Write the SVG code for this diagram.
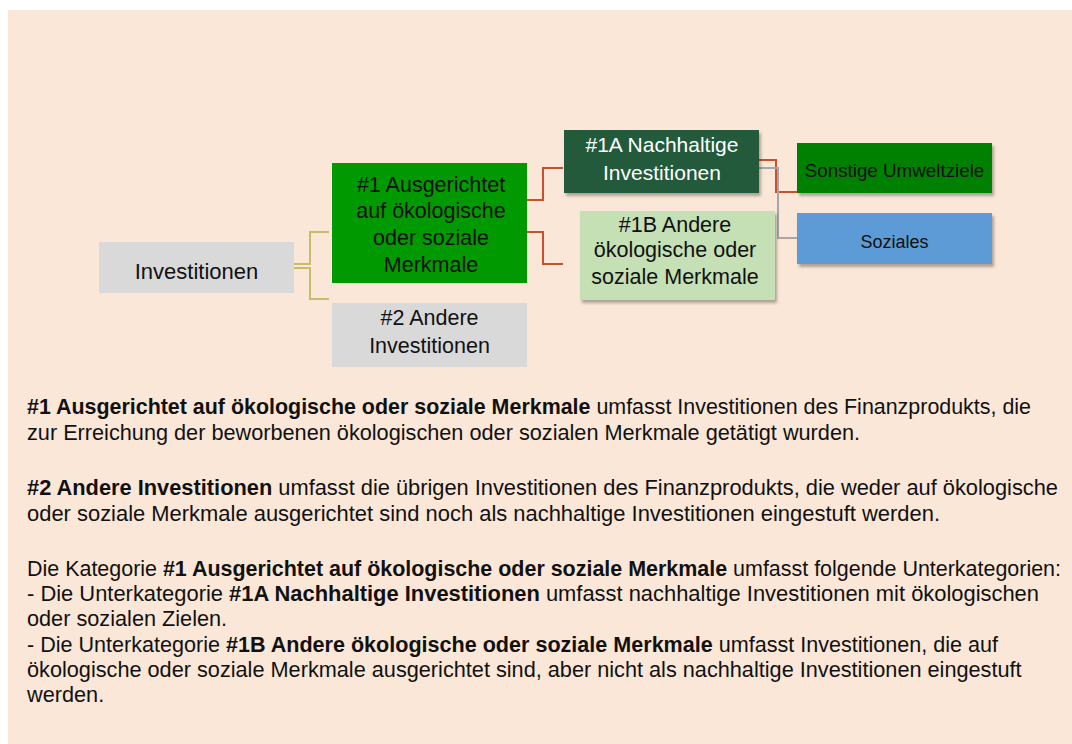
<svg xmlns="http://www.w3.org/2000/svg" width="1072" height="744" viewBox="0 0 1072 744">
<defs>
<filter id="sh" x="-10%" y="-10%" width="130%" height="140%">
<feDropShadow dx="2" dy="3" stdDeviation="1.8" flood-color="#000" flood-opacity="0.3"/>
</filter>
<style>
.n{font-family:"Liberation Sans",Arial,sans-serif;text-anchor:middle;fill:#111}
.b{font-family:"Liberation Sans",Arial,sans-serif;font-size:21.7px;fill:#111}
.bd{font-weight:bold}
.c{fill:none;stroke-width:2}
</style>
</defs>
<rect x="0" y="0" width="1072" height="744" fill="#ffffff"/>
<rect x="8" y="10" width="1064" height="734" fill="#FAE7D7"/>
<g id="connectors">
<path class="c" d="M294,264 H310 V232 H329 M294,268 H310 V299 H329" stroke="#C9BA6C" stroke-width="1.6"/>
<path class="c" d="M527,200 H543 V168 H563" stroke="#C9502E"/>
<path class="c" d="M527,232 H543 V264 H563" stroke="#C9502E"/>
<path class="c" d="M759,160 H776 V192 H797" stroke="#C9502E"/>
<path class="c" d="M759,168 H778 V238 H797" stroke="#A6A6A6"/>
</g>
<g id="node-investitionen">
<rect x="99" y="242" width="195" height="51" fill="#D9D9D9"/>
<text class="n" x="196.5" y="279" font-size="22">Investitionen</text>
</g>
<g id="node-1">
<rect x="332" y="163" width="195" height="120" fill="#009900"/>
<text class="n" font-size="21.5"><tspan x="431" y="192">#1 Ausgerichtet</tspan><tspan x="431" y="218">auf ökologische</tspan><tspan x="431" y="245">oder soziale</tspan><tspan x="431" y="272">Merkmale</tspan></text>
</g>
<g id="node-2">
<rect x="332" y="303" width="195" height="64" fill="#D9D9D9"/>
<text class="n" font-size="21.5"><tspan x="429.5" y="325">#2 Andere</tspan><tspan x="429.5" y="353">Investitionen</tspan></text>
</g>
<g id="node-1a">
<rect x="564" y="130" width="195" height="63" fill="#245A3A" filter="url(#sh)"/>
<text class="n" font-size="21" style="fill:#fff"><tspan x="662" y="152">#1A Nachhaltige</tspan><tspan x="662" y="180">Investitionen</tspan></text>
</g>
<g id="node-1b">
<rect x="580" y="211" width="195" height="89" fill="#C5E0B4" filter="url(#sh)"/>
<text class="n" font-size="21.5"><tspan x="675" y="232">#1B Andere</tspan><tspan x="675" y="257">ökologische oder</tspan><tspan x="675" y="284">soziale Merkmale</tspan></text>
</g>
<g id="node-sonstige">
<rect x="797" y="143" width="195" height="50" fill="#008000" filter="url(#sh)"/>
<text class="n" x="894.5" y="177" font-size="18.8">Sonstige Umweltziele</text>
</g>
<g id="node-soziales">
<rect x="797" y="213" width="195" height="51" fill="#5B9BD5" filter="url(#sh)"/>
<text class="n" x="894.5" y="248" font-size="18">Soziales</text>
</g>
<g id="description">
<text class="b" x="27" y="414" textLength="1004" lengthAdjust="spacingAndGlyphs"><tspan class="bd">#1 Ausgerichtet auf ökologische oder soziale Merkmale</tspan> umfasst Investitionen des Finanzprodukts, die</text>
<text class="b" x="27" y="440">zur Erreichung der beworbenen ökologischen oder sozialen Merkmale getätigt wurden.</text>
<text class="b" x="27" y="495" textLength="1031" lengthAdjust="spacingAndGlyphs"><tspan class="bd">#2 Andere Investitionen</tspan> umfasst die übrigen Investitionen des Finanzprodukts, die weder auf ökologische</text>
<text class="b" x="27" y="521" textLength="913" lengthAdjust="spacingAndGlyphs">oder soziale Merkmale ausgerichtet sind noch als nachhaltige Investitionen eingestuft werden.</text>
<text class="b" x="27" y="576" textLength="1034" lengthAdjust="spacingAndGlyphs">Die Kategorie <tspan class="bd">#1 Ausgerichtet auf ökologische oder soziale Merkmale</tspan> umfasst folgende Unterkategorien:</text>
<text class="b" x="27" y="601" textLength="1012" lengthAdjust="spacingAndGlyphs">- Die Unterkategorie <tspan class="bd">#1A Nachhaltige Investitionen</tspan> umfasst nachhaltige Investitionen mit ökologischen</text>
<text class="b" x="27" y="626">oder sozialen Zielen.</text>
<text class="b" x="27" y="652" textLength="971" lengthAdjust="spacingAndGlyphs">- Die Unterkategorie <tspan class="bd">#1B Andere ökologische oder soziale Merkmale</tspan> umfasst Investitionen, die auf</text>
<text class="b" x="27" y="677">ökologische oder soziale Merkmale ausgerichtet sind, aber nicht als nachhaltige Investitionen eingestuft</text>
<text class="b" x="27" y="702">werden.</text>
</g>
</svg>
